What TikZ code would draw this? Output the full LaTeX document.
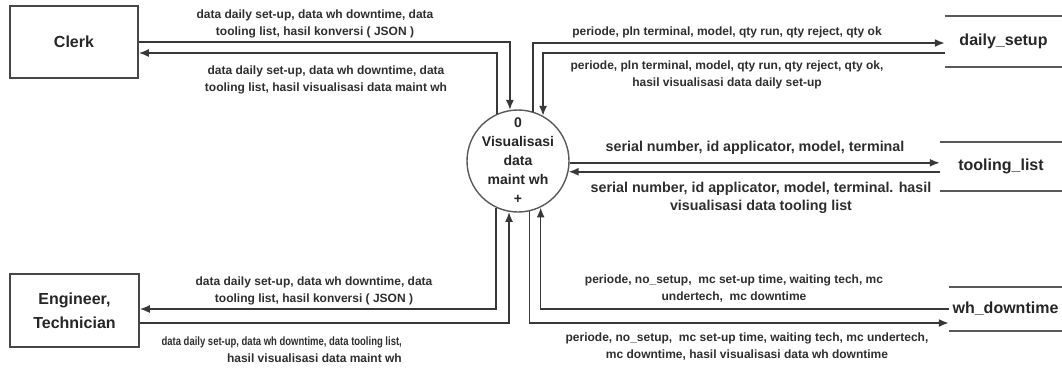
\documentclass[tikz,border=0pt]{standalone}
\usepackage{fontspec}
\usepackage{graphicx}
\setmainfont{Liberation Sans}
\usetikzlibrary{arrows.meta}
\begin{document}
\begin{tikzpicture}[x=1pt,y=-1pt,
  flow/.style={draw=black!78, line width=1.6pt, -{Latex[length=10pt,width=8pt]}},
  entity/.style={draw=black!72, line width=1.6pt, align=center, inner sep=0pt,
    font=\fontsize{16}{24}\selectfont\bfseries, text=black!85},
  process/.style={circle, draw=black!65, line width=1.4pt, minimum size=102pt,
    inner sep=-16pt, align=center, font=\fontsize{14}{19}\selectfont\bfseries, text=black!85},
  store/.style={inner sep=0pt, font=\fontsize{16}{19}\selectfont\bfseries, text=black!85},
  storeline/.style={draw=black!65, line width=2pt},
  lbl/.style={inner sep=0pt, align=center, text=black!82,
    font=\fontsize{12}{17}\selectfont\bfseries},
  lblbig/.style={inner sep=0pt, align=center, text=black!82,
    font=\fontsize{14.3}{18}\selectfont\bfseries}
]
\useasboundingbox (0,0) rectangle (1062,368);

% external entities
\node[entity, minimum width=128pt, minimum height=72pt] (clerk) at (74,42) {Clerk};
\node[entity, minimum width=129pt, minimum height=73pt] (eng) at (74.5,310.5) {Engineer,\\Technician};

% process
\node[process] (proc) at (518,161) {0\\Visualisasi\\data\\maint wh\\+};

% data stores
\node[store, minimum width=117pt, minimum height=51pt] (ds) at (1003.5,41.5) {daily\_setup};
\node[store, minimum width=122pt, minimum height=49pt] (tl) at (1001,166.5) {tooling\_list};
\node[store, minimum width=113pt, minimum height=44pt] (wd) at (1005.5,309) {wh\_downtime};
\foreach \s in {ds,tl,wd}{
  \draw[storeline] (\s.north west) -- (\s.north east);
  \draw[storeline] (\s.south west) -- (\s.south east);
}

% flows: Clerk
\draw[flow] (clerk.east) -| (proc.99);
\draw[flow] (proc.114) |- ([yshift=-11pt]clerk.east);

% flows: daily_setup
\draw[flow] (proc.73) |- ([yshift=-1.5pt]ds.west);
\draw[flow] ([yshift=-11.5pt]ds.west) -| (proc.61);

% flows: tooling_list
\draw[flow] (proc.-2) -- (proc.-2 -| tl.west);
\draw[flow] (proc.-12.5 -| tl.west) -- (proc.-12.5);

% flows: wh_downtime
\draw[flow] (wd.west) -| (proc.-64.5);
\draw[flow] (proc.-77.5) |- ([yshift=-14pt]wd.west);

% flows: Engineer, Technician
\draw[flow] (proc.-115.6) |- ([yshift=1.5pt]eng.east);
\draw[flow] ([yshift=-12.5pt]eng.east) -| (proc.-100.2);

% flow labels
\node[lbl] (l1) at (315,24) {data daily set-up, data wh downtime, data\\tooling list, hasil konversi ( JSON )};
\node[lbl] (l2) at (326,80) {data daily set-up, data wh downtime, data\\tooling list, hasil visualisasi data maint wh};
\node[lbl] (l3) at (727,32) {periode, pln terminal, model, qty run, qty reject, qty ok};
\node[lbl] (l4) at (727,75) {periode, pln terminal, model, qty run, qty reject, qty ok,\\hasil visualisasi data daily set-up};
\node[lblbig] (l5) at (755,148) {serial number, id applicator, model, terminal};
\node[lblbig] (l6) at (761,198) {serial number, id applicator, model, terminal. hasil\\visualisasi data tooling list};
\node[lbl] (l7) at (734,289) {periode, no\_setup,\ \ mc set-up time, waiting tech, mc\\undertech,\ \ mc downtime};
\node[lbl] (l8) at (747,347) {periode, no\_setup,\ \ mc set-up time, waiting tech, mc undertech,\\mc downtime, hasil visualisasi data wh downtime};
\node[lbl] (l9) at (314,291) {data daily set-up, data wh downtime, data\\tooling list, hasil konversi ( JSON )};
\node[lbl, align=right, anchor=east] (l10) at (402,350) {\scalebox{0.79}[1]{data daily set-up, data wh downtime, data tooling list,}\\hasil visualisasi data maint wh};
\end{tikzpicture}
\end{document}
